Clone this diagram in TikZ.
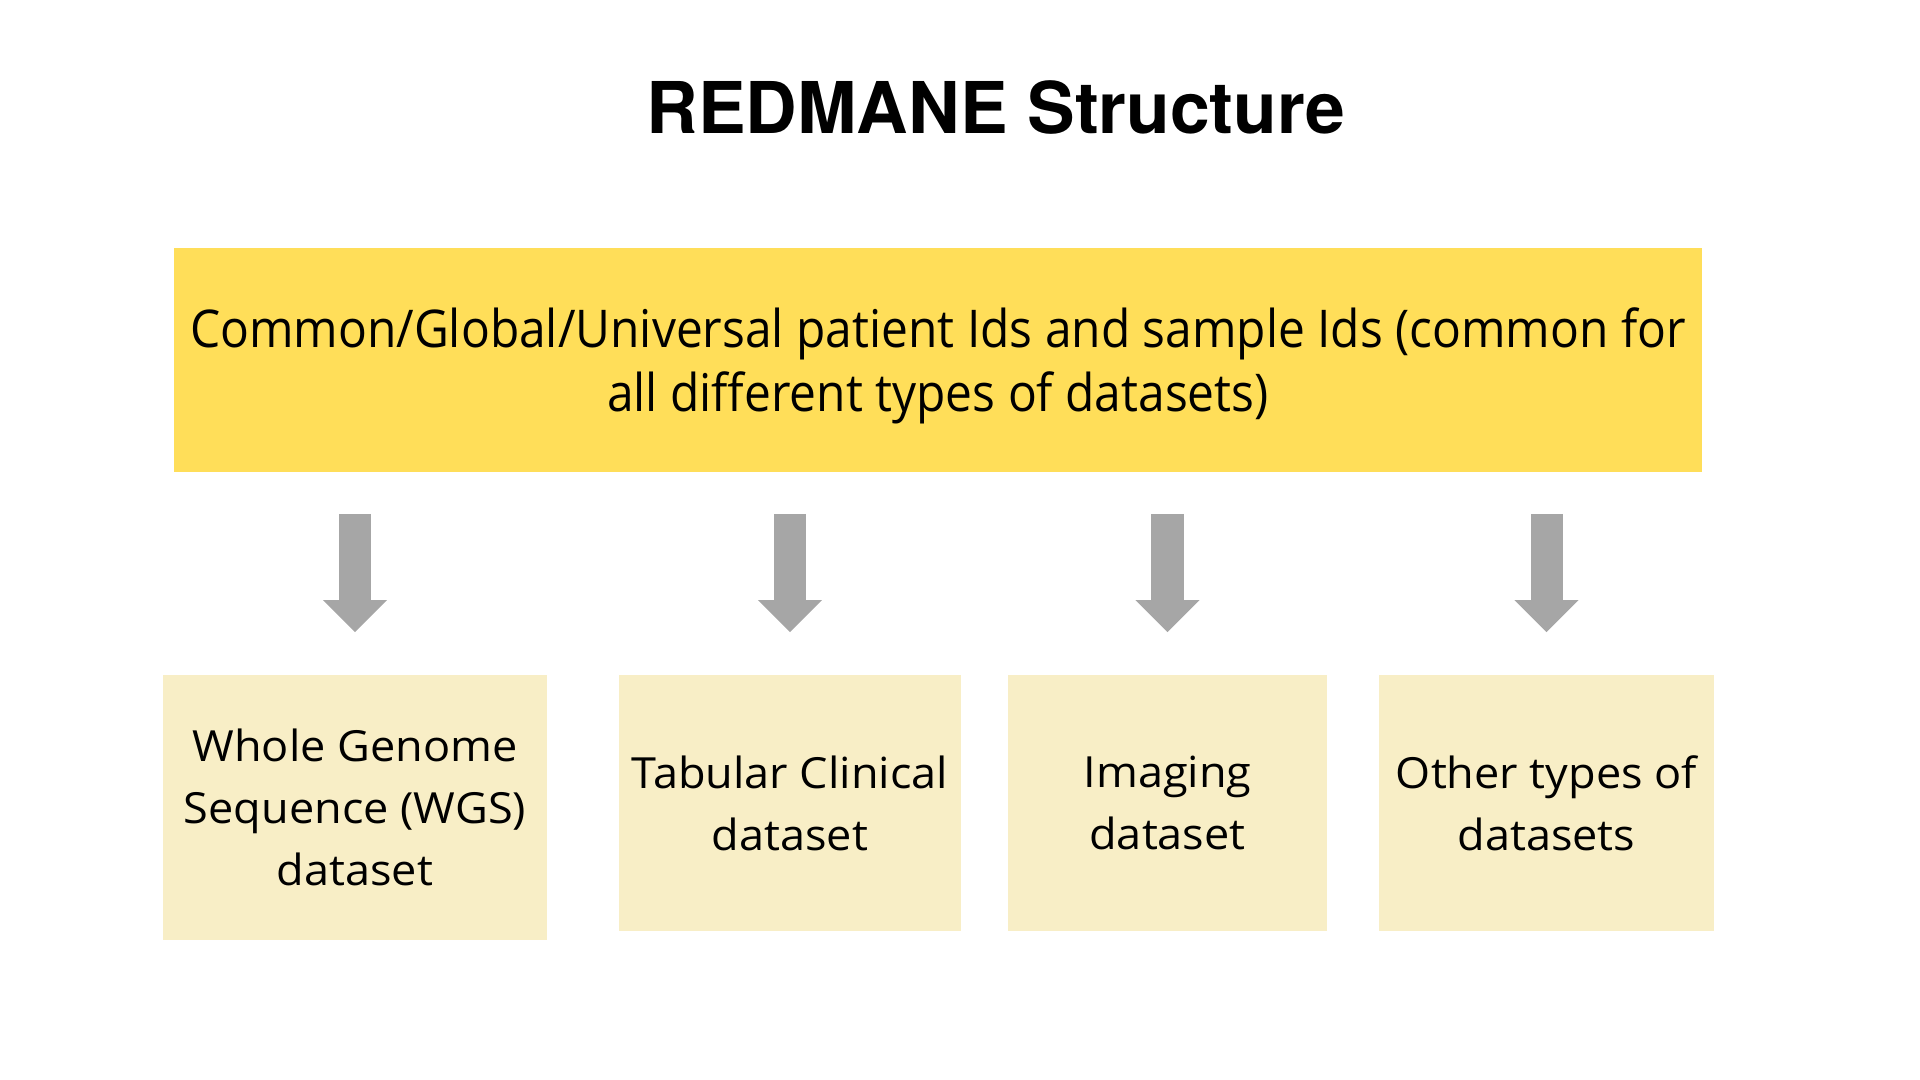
\documentclass[tikz,border=0pt]{standalone}
\usepackage{fontspec}
\setmainfont[FakeStretch=1.05]{Open Sans}
\newfontfamily\titlefont{TeX Gyre Heros}
\newfontfamily\narrowfont[FakeStretch=0.92]{Open Sans}
\usetikzlibrary{arrows.meta}
\definecolor{idyellow}{HTML}{FFDE59}
\definecolor{setcream}{HTML}{F8EEC6}
\definecolor{arrowgrey}{HTML}{A6A6A6}

\begin{document}
\begin{tikzpicture}[x=0.01cm,y=-0.01cm,
  idbox/.style={fill=idyellow, minimum width=15.28cm, minimum height=2.24cm, align=center, inner sep=0pt, text depth=0pt, font=\narrowfont\fontsize{14.8}{18.2}\selectfont},
  setbox/.style={fill=setcream, minimum height=2.56cm, align=center, inner sep=0pt, font=\fontsize{12.2}{17.6}\selectfont},
  bigarrow/.style={arrowgrey, line width=0.32cm, -{Triangle[width=0.64cm,length=0.32cm,line width=0pt]}, shorten <=0.41cm, shorten >=0.42cm}]
\useasboundingbox (0,0) rectangle (1920,1080);
\node[font=\titlefont\bfseries\fontsize{20.3}{24}\selectfont, anchor=base] (title) at (996,134) {REDMANE Structure};
\node[idbox] (ids) at (938,360) {Common/Global/Universal patient Ids and sample Ids (common for\\all different types of datasets)};
\node[setbox, minimum width=3.84cm, minimum height=2.65cm] (wgs) at (355,807.5) {Whole Genome\\Sequence (WGS)\\dataset};
\node[setbox, minimum width=3.42cm] (tab) at (790,803) {Tabular Clinical\\dataset};
\node[setbox, minimum width=3.19cm] (img) at (1167.5,803) {Imaging\\dataset};
\node[setbox, minimum width=3.35cm] (oth) at (1546.5,803) {Other types of\\datasets};
\foreach \b in {wgs,tab,img,oth}
  \draw[bigarrow] (ids.south -| \b.north) -- (\b.north);
\end{tikzpicture}
\end{document}
